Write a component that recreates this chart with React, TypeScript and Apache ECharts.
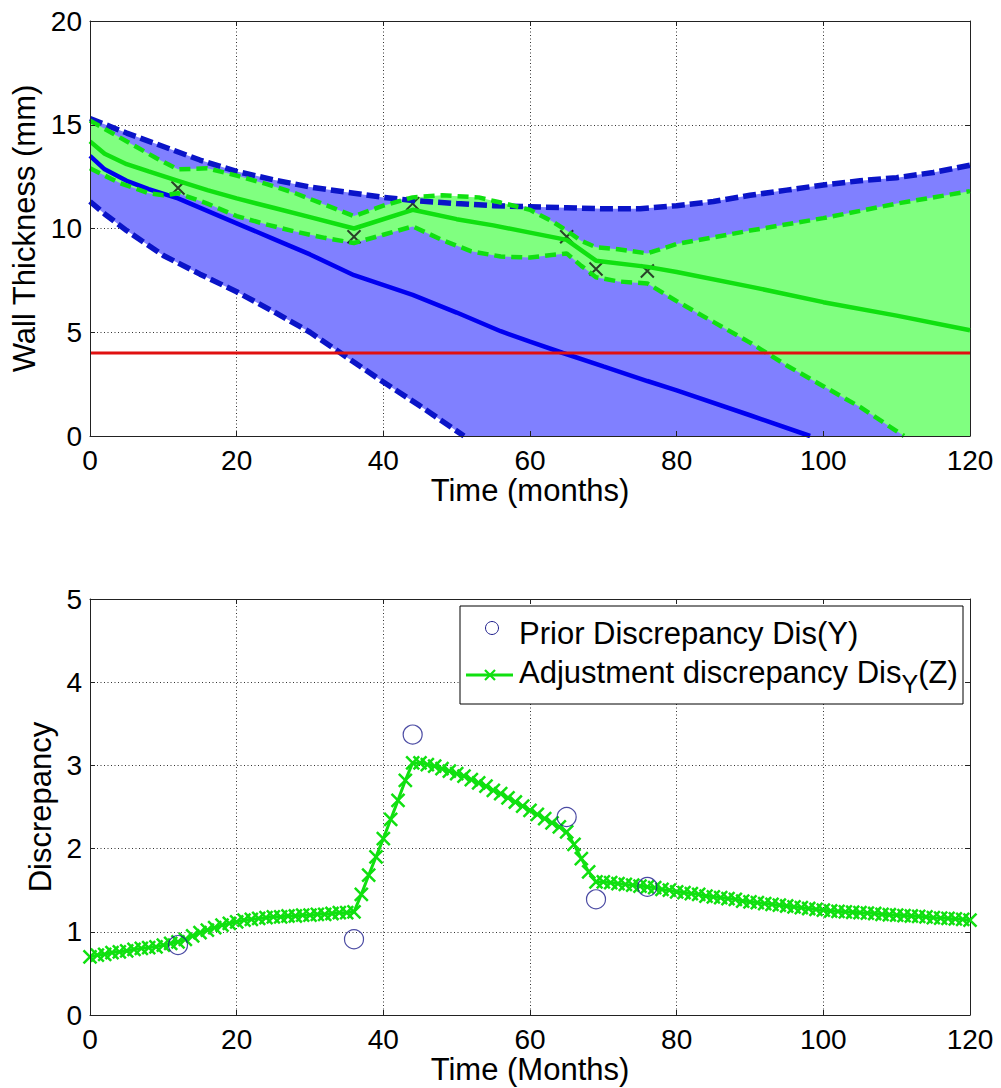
import React, { useEffect, useRef } from 'react';
import * as echarts from 'echarts';

// ---------- tick values ----------
const X_TICKS = [0, 20, 40, 60, 80, 100, 120];
const Y_TICKS_TOP = [0, 5, 10, 15, 20];
const Y_TICKS_BOTTOM = [0, 1, 2, 3, 4, 5];

// ---------- top chart: wall thickness (months, mm) ----------
const blueMean: [number, number][] = [[0,13.5],[2,12.85],[5,12.3],[8,11.9],[12,11.45],[16,10.85],[20,10.25],[25,9.5],[30,8.75],[36,7.75],[44,6.8],[50,5.95],[56,5.05],[60,4.55],[64.5,4.0],[70,3.35],[76,2.65],[80,2.2],[90,1.0],[98.2,0]];
const blueUpper: [number, number][] = [[0,15.3],[5,14.6],[10,13.95],[15,13.3],[20,12.75],[25,12.35],[30,12.0],[36,11.7],[40,11.5],[44,11.35],[50,11.2],[55,11.1],[60,11.05],[65,11.0],[70,10.95],[75,10.95],[80,11.1],[85,11.3],[90,11.6],[95,11.85],[100,12.1],[105,12.3],[110,12.45],[115,12.7],[120,13.05]];
const blueLower: [number, number][] = [[0,11.3],[2,10.7],[5,9.9],[10,8.7],[15,7.8],[20,6.95],[25,6.0],[30,5.0],[35,3.8],[40,2.6],[45,1.45],[51,0]];
const greenMean: [number, number][] = [[0,14.2],[2,13.6],[5,13.1],[8,12.75],[12,12.3],[16,11.85],[20,11.45],[25,11.0],[30,10.55],[36,10.0],[44,10.9],[50,10.45],[55,10.15],[60,9.8],[65,9.45],[69,8.45],[76,8.15],[80,7.9],[90,7.2],[100,6.45],[110,5.8],[120,5.1]];
const greenUpper: [number, number][] = [[0,15.2],[3,14.6],[6,14.0],[9,13.4],[12,12.85],[16,12.9],[20,12.55],[24,12.15],[28,11.7],[32,11.15],[36,10.6],[40,11.1],[44,11.5],[48,11.6],[53,11.5],[56,11.25],[60,10.9],[63,10.35],[65,9.9],[67,9.4],[69,9.1],[72,9.0],[76,8.8],[80,9.25],[90,9.9],[100,10.5],[110,11.2],[120,11.8]];
const greenLower: [number, number][] = [[0,12.9],[4,12.2],[8,11.7],[10,11.6],[12,11.7],[16,11.2],[20,10.6],[24,10.2],[28,9.85],[32,9.55],[36,9.3],[40,9.7],[44,10.1],[48,9.45],[52,8.9],[56,8.65],[60,8.6],[65,8.8],[67,8.2],[69,7.65],[72,7.45],[76,7.35],[80,6.5],[85,5.5],[90,4.5],[95,3.4],[100,2.4],[105,1.4],[111,0]];
const minThickness: [number, number][] = [[0,4],[120,4]];
const observations: [number, number][] = [[12,11.95],[36,9.6],[44,11.2],[65,9.6],[69,8.05],[76,7.95]];

// ---------- bottom chart: discrepancy ----------
const priorMonths = [12, 36, 44, 65, 69, 76];
const priorDiscrepancy = [0.84, 0.91, 3.37, 2.38, 1.39, 1.54];
const adjMonths = Array.from({ length: 121 }, (_, i) => i);
const adjDiscrepancy = [
  0.70, 0.72, 0.73, 0.75, 0.76, 0.77, 0.79, 0.80, 0.81, 0.82,
  0.84, 0.86, 0.88, 0.91, 0.95, 0.99, 1.02, 1.05, 1.08, 1.10,
  1.12, 1.14, 1.15, 1.16, 1.17, 1.18, 1.18, 1.19, 1.19, 1.20,
  1.20, 1.21, 1.21, 1.22, 1.23, 1.23, 1.24, 1.45, 1.68, 1.90,
  2.12, 2.35, 2.58, 2.82, 3.03, 3.03, 3.01, 2.99, 2.96, 2.93,
  2.90, 2.87, 2.83, 2.79, 2.75, 2.70, 2.66, 2.61, 2.56, 2.51,
  2.46, 2.41, 2.36, 2.31, 2.26, 2.20, 2.05, 1.88, 1.72, 1.60,
  1.60, 1.59, 1.58, 1.57, 1.56, 1.55, 1.54, 1.53, 1.51, 1.50,
  1.48, 1.47, 1.46, 1.45, 1.43, 1.42, 1.41, 1.40, 1.39, 1.37,
  1.36, 1.35, 1.34, 1.33, 1.32, 1.31, 1.30, 1.29, 1.28, 1.27,
  1.26, 1.25, 1.245, 1.24, 1.235, 1.23, 1.225, 1.22, 1.21, 1.205,
  1.20, 1.195, 1.19, 1.185, 1.18, 1.17, 1.165, 1.16, 1.155, 1.15,
  1.14,
];

const LEGEND_PRIOR = 'Prior Discrepancy Dis(Y)';
const LEGEND_ADJ_MAIN = 'Adjustment discrepancy Dis';
const LEGEND_ADJ_SUB = 'Y';
const LEGEND_ADJ_TAIL = '(Z)';

const FONT = '"Liberation Sans", Arial, Helvetica, sans-serif';
const BLUE_FILL = '#8080FF';
const GREEN_FILL = '#80FF80';
const BLUE_LINE = '#0000F0';
const BLUE_DASH = '#0A14C8';
const GREEN_LINE = '#10E010';
const RED_LINE = '#E01010';
const CIRCLE_COLOR = '#1E1E8C';
const X_PATH = 'path://M0,0L10,10M10,0L0,10';
const LEGEND_FS = 31;
const SUB_FS = 25;

function measure(text: string, size: number) {
  const ctx = document.createElement('canvas').getContext('2d');
  if (!ctx) return text.length * size * 0.55;
  ctx.font = `${size}px "Liberation Sans", Arial, sans-serif`;
  return ctx.measureText(text).width;
}

function band(upper: [number, number][], lower: [number, number][], floor: number, color: string, z: number) {
  const pts: [number, number][] = [...upper];
  const lastU = upper[upper.length - 1];
  const lastL = lower[lower.length - 1];
  if (lastL[0] < lastU[0]) pts.push([lastU[0], floor]);
  for (let i = lower.length - 1; i >= 0; i--) pts.push(lower[i]);
  return {
    type: 'custom',
    xAxisIndex: 0,
    yAxisIndex: 0,
    z,
    silent: true,
    data: [[0, 0]],
    renderItem: (_p: any, api: any) => ({
      type: 'polygon',
      shape: { points: pts.map((p) => api.coord(p)) },
      style: { fill: color, stroke: 'none' },
    }),
  } as any;
}

function axisPair(gridIndex: number, ticks: number[], dir: 'x' | 'y', name: string, nameGap: number) {
  const min = ticks[0];
  const max = ticks[ticks.length - 1];
  const interval = ticks[1] - ticks[0];
  const common = {
    type: 'value',
    gridIndex,
    min,
    max,
    interval,
    axisLine: { show: true, onZero: false, lineStyle: { color: '#222', width: 1 } },
    axisTick: { show: true, inside: true, length: 5, lineStyle: { color: '#222', width: 1 } },
  };
  const primary = {
    ...common,
    position: dir === 'x' ? 'bottom' : 'left',
    z: 10,
    name,
    nameLocation: 'middle',
    nameGap,
    nameTextStyle: { fontFamily: FONT, fontSize: 31, color: '#000' },
    axisLabel: { show: true, fontFamily: FONT, fontSize: 28, color: '#000', margin: dir === 'x' ? 10 : 8 },
    splitLine: { show: false },
  };
  const secondary = {
    ...common,
    position: dir === 'x' ? 'top' : 'right',
    z: 0,
    axisLabel: { show: false },
    splitLine: { show: true, lineStyle: { color: '#333', width: 1, type: [1, 2.5] } },
  };
  return [primary, secondary];
}

export default function App() {
  const ref = useRef<HTMLDivElement>(null);
  useEffect(() => {
    document.body.style.margin = '0';
    const chart = echarts.init(ref.current!, undefined, { renderer: 'svg' });
    const greenDash = { color: GREEN_LINE, width: 4.5, type: [11, 6] };
    const blueDash = { color: BLUE_DASH, width: 5.5, type: [13, 5] };
    const textX = 519;
    const mainW = measure(LEGEND_ADJ_MAIN, LEGEND_FS);
    const subW = measure(LEGEND_ADJ_SUB, SUB_FS);
    const option: any = {
      animation: false,
      backgroundColor: '#fff',
      grid: [
        { left: 90, top: 21, width: 880, height: 415 },
        { left: 90, top: 599, width: 880, height: 416 },
      ],
      xAxis: [
        ...axisPair(0, X_TICKS, 'x', 'Time (months)', 37),
        ...axisPair(1, X_TICKS, 'x', 'Time (Months)', 37),
      ],
      yAxis: [
        ...axisPair(0, Y_TICKS_TOP, 'y', 'Wall Thickness (mm)', 46),
        ...axisPair(1, Y_TICKS_BOTTOM, 'y', 'Discrepancy', 34),
      ],
      series: [
        band(blueUpper, blueLower, Y_TICKS_TOP[0], BLUE_FILL, 1),
        band(greenUpper, greenLower, Y_TICKS_TOP[0], GREEN_FILL, 1.5),
        {
          type: 'scatter', xAxisIndex: 0, yAxisIndex: 0, z: 2, data: observations,
          symbol: X_PATH, symbolSize: 13,
          itemStyle: { color: 'rgba(0,0,0,0)', borderColor: '#111', borderWidth: 2 },
        },
        { type: 'line', xAxisIndex: 0, yAxisIndex: 0, z: 3, data: blueMean, showSymbol: false, lineStyle: { color: BLUE_LINE, width: 4.5 } },
        { type: 'line', xAxisIndex: 0, yAxisIndex: 0, z: 3, data: blueUpper, showSymbol: false, lineStyle: blueDash },
        { type: 'line', xAxisIndex: 0, yAxisIndex: 0, z: 3, data: blueLower, showSymbol: false, lineStyle: blueDash },
        { type: 'line', xAxisIndex: 0, yAxisIndex: 0, z: 4, data: greenUpper, showSymbol: false, lineStyle: greenDash },
        { type: 'line', xAxisIndex: 0, yAxisIndex: 0, z: 4, data: greenLower, showSymbol: false, lineStyle: greenDash },
        { type: 'line', xAxisIndex: 0, yAxisIndex: 0, z: 4, data: greenMean, showSymbol: false, lineStyle: { color: GREEN_LINE, width: 4.5 } },
        { type: 'line', xAxisIndex: 0, yAxisIndex: 0, z: 5, data: minThickness, showSymbol: false, lineStyle: { color: RED_LINE, width: 3 } },
        {
          type: 'line', xAxisIndex: 2, yAxisIndex: 2, z: 3,
          data: adjMonths.map((m, i) => [m, adjDiscrepancy[i]]),
          symbol: X_PATH, symbolSize: 13, showAllSymbol: true,
          lineStyle: { color: GREEN_LINE, width: 3 },
          itemStyle: { color: 'rgba(0,0,0,0)', borderColor: GREEN_LINE, borderWidth: 2.5 },
        },
        {
          type: 'scatter', xAxisIndex: 2, yAxisIndex: 2, z: 4,
          data: priorMonths.map((m, i) => [m, priorDiscrepancy[i]]),
          symbol: 'circle', symbolSize: 19,
          itemStyle: { color: 'rgba(0,0,0,0)', borderColor: CIRCLE_COLOR, borderWidth: 1.2 },
        },
      ],
      graphic: [
        { type: 'rect', z: 100, shape: { x: 460, y: 606, width: 503, height: 98 }, style: { fill: '#fff', stroke: '#000', lineWidth: 1 } },
        { type: 'circle', z: 101, shape: { cx: 492, cy: 628, r: 6.5 }, style: { fill: 'none', stroke: CIRCLE_COLOR, lineWidth: 1 } },
        { type: 'text', z: 101, x: textX, y: 633, style: { text: LEGEND_PRIOR, fontFamily: FONT, fontSize: LEGEND_FS, fill: '#000', verticalAlign: 'middle' } },
        { type: 'line', z: 101, shape: { x1: 466, y1: 675, x2: 513, y2: 675 }, style: { stroke: GREEN_LINE, lineWidth: 3 } },
        { type: 'line', z: 101, shape: { x1: 485, y1: 670, x2: 495, y2: 680 }, style: { stroke: GREEN_LINE, lineWidth: 2.2 } },
        { type: 'line', z: 101, shape: { x1: 495, y1: 670, x2: 485, y2: 680 }, style: { stroke: GREEN_LINE, lineWidth: 2.2 } },
        { type: 'text', z: 101, x: textX, y: 672, style: { text: LEGEND_ADJ_MAIN, fontFamily: FONT, fontSize: LEGEND_FS, fill: '#000', verticalAlign: 'middle' } },
        { type: 'text', z: 101, x: textX + mainW, y: 684, style: { text: LEGEND_ADJ_SUB, fontFamily: FONT, fontSize: SUB_FS, fill: '#000', verticalAlign: 'middle' } },
        { type: 'text', z: 101, x: textX + mainW + subW, y: 672, style: { text: LEGEND_ADJ_TAIL, fontFamily: FONT, fontSize: LEGEND_FS, fill: '#000', verticalAlign: 'middle' } },
      ],
    };
    chart.setOption(option);
    return () => chart.dispose();
  }, []);
  return <div ref={ref} style={{ width: 1001, height: 1088 }} />;
}
